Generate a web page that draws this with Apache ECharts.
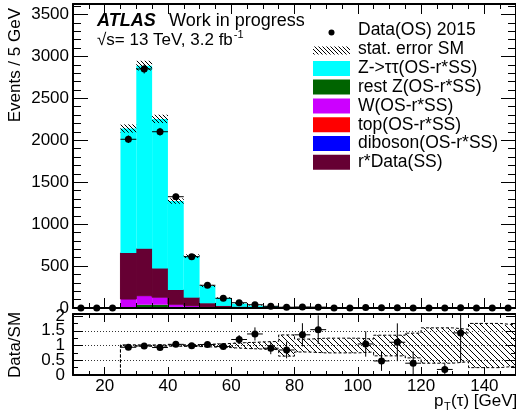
<!DOCTYPE html>
<html><head><meta charset="utf-8">
<script src="https://cdn.jsdelivr.net/npm/echarts@6/dist/echarts.min.js"></script>
<style>html,body{margin:0;padding:0;background:#fff}#c{width:516px;height:415px}</style>
</head><body><div id="c"></div>
<script>
// ---- data (bins of 5 GeV from 10 to 150) ----
const binEdges = [10,15,20,25,30,35,40,45,50,55,60,65,70,75,80,85,90,95,100,105,110,115,120,125,130,135,140,145,150];
const dataOS   = [0,0,0,2012,2850,2102,1327,612,271,116,63,39,20,9,12,10,0,0,6,2,3,1,0,1,2,0,0,0];
const ztautau  = [0,0,0,1484,2183,1785,1059,495,206,95,38,18.5,15.7,6.5,5.5,4.0,2.4,2.1,3.9,2.8,1.6,1.5,1.2,4.7,0.8,0.8,0.6,0.6];
const restZ    = [0,0,0,5,36,36,10,6,3,2,1.5,1,0.8,0.6,0.5,0.4,0.3,0.3,0.3,0.2,0.2,0.2,0.2,0.1,0.1,0.1,0.1,0.1];
const wjets    = [0,0,0,100,108,90,32,20,14,8,4,3,2,1.2,1,0.8,0.6,0.6,0.5,0.4,0.3,0.3,0.3,0.2,0.2,0.2,0.2,0.1];
const topq     = [0,0,0,1.5,2,2,2,1,1,0.5,0.5,0.3,0.3,0.2,0.2,0.2,0.1,0.1,0.1,0.1,0.1,0.1,0.1,0,0,0,0,0];
const diboson  = [0,0,0,0.5,1,1,1,0.5,0.5,0.3,0.3,0.2,0.2,0.1,0.1,0.1,0.1,0.1,0.1,0.1,0,0,0,0,0,0,0,0];
const rDataSS  = [0,0,0,549,560,341,171,96,38,14,8,5,3,2,1.5,1,1,0.8,0.8,0.6,0.5,0.4,0.4,0.3,0.3,0.2,0.2,0.2];
const statRelErr = [0,0,0,0.023,0.02,0.022,0.025,0.035,0.05,0.07,0.1,0.12,0.14,0.36,0.22,0.25,0.25,0.25,0.22,0.35,0.35,0.42,0.6,0.6,0.55,0.75,0.75,0.7];
const xMajorTicks = [20,40,60,80,100,120,140];
const ratioLabelsA = [0,1,2];
const ratioLabelsB = [0.5,1.5];
const legendLabels = ['Data(OS) 2015','stat. error SM','Z->\u03C4\u03C4(OS-r*SS)','rest Z(OS-r*SS)','W(OS-r*SS)','top(OS-r*SS)','diboson(OS-r*SS)','r*Data(SS)'];

const FONT = '"Liberation Sans", Arial, Helvetica, sans-serif';
const nb = dataOS.length;

// stack (bottom -> top)
const comps = [
  {vals: diboson, color:'#0000FF'},
  {vals: topq,    color:'#FF0000'},
  {vals: restZ,   color:'#006400'},
  {vals: wjets,   color:'#CC00FF'},
  {vals: rDataSS, color:'#660033', edge:true},
  {vals: ztautau, color:'#00FFFF'}
];
const total = new Array(nb).fill(0);
const stackSeries = comps.map(c => {
  const d = [];
  for (let i=0;i<nb;i++){ const lo = total[i]; total[i] += c.vals[i]; d.push([binEdges[i], binEdges[i+1], lo, total[i]]); }
  return {
    type:'custom', xAxisIndex:0, yAxisIndex:0, data:d, z:2,
    renderItem:(params, api) => {
      const p0 = api.coord([api.value(0), api.value(2)]);
      const p1 = api.coord([api.value(1), api.value(3)]);
      const h = p0[1]-p1[1];
      if (h <= 0 && !c.edge) return null;
      return {type:'rect', shape:{x:p0[0], y:p1[1], width:p1[0]-p0[0], height:Math.max(h,0)},
        style:{fill:c.color, stroke: c.edge ? c.color : null, lineWidth: 1}};
    }
  };
});

function hatchCanvas(size){
  const cv = document.createElement('canvas'); cv.width=size; cv.height=size;
  const g = cv.getContext('2d'); g.strokeStyle='#000'; g.lineWidth=1;
  g.beginPath();
  g.moveTo(-1,-1); g.lineTo(size+1,size+1);
  g.moveTo(-1,size-1); g.lineTo(1,size+1);
  g.moveTo(size-1,-1); g.lineTo(size+1,1);
  g.stroke();
  return cv;
}
const hatchMain = {image: hatchCanvas(4), repeat:'repeat'};
const hatchRatio = {image: hatchCanvas(6), repeat:'repeat'};

const bandMain = [], bandRatio = [], bandTop = [], bandBot = [], dataPts = [], ratioPts = [];
for (let i=0;i<nb;i++){
  const c = (binEdges[i]+binEdges[i+1])/2;
  if (total[i] > 0){
    bandMain.push([binEdges[i], binEdges[i+1], total[i]*(1-statRelErr[i]), total[i]*(1+statRelErr[i])]);
    bandRatio.push([binEdges[i], binEdges[i+1], 1-statRelErr[i], 1+statRelErr[i]]);
    bandTop.push([binEdges[i], 1+statRelErr[i]]); bandBot.push([binEdges[i], 1-statRelErr[i]]);
  } else { bandTop.push([binEdges[i], 0]); bandBot.push([binEdges[i], 0]); }
  dataPts.push([c, dataOS[i], Math.sqrt(dataOS[i])]);
  if (dataOS[i] > 0 && total[i] > 0) ratioPts.push([c, dataOS[i]/total[i], Math.sqrt(dataOS[i])/total[i]]);
}
bandTop.push([binEdges[nb], bandTop[nb-1][1]]); bandBot.push([binEdges[nb], bandBot[nb-1][1]]);

function bandRender(fill){
  return (params, api) => {
    const p0 = api.coord([api.value(0), api.value(2)]);
    const p1 = api.coord([api.value(1), api.value(3)]);
    return {type:'rect', shape:{x:p0[0], y:p1[1], width:p1[0]-p0[0], height:p0[1]-p1[1]}, style:{fill:fill}};
  };
}
function pointRender(r){
  return (params, api) => {
    const x = api.value(0), y = api.value(1), e = api.value(2);
    const c = api.coord([x,y]);
    const ch = [];
    if (y > 0){
      const l = api.coord([x-2.5,y]), rr = api.coord([x+2.5,y]);
      ch.push({type:'line', shape:{x1:l[0], y1:c[1], x2:rr[0], y2:c[1]}, style:{stroke:'#000', lineWidth:1}});
      const t = api.coord([x,y+e]), b = api.coord([x,Math.max(y-e,0)]);
      ch.push({type:'line', shape:{x1:c[0], y1:t[1], x2:c[0], y2:b[1]}, style:{stroke:'#000', lineWidth:1}});
    }
    ch.push({type:'circle', shape:{cx:c[0], cy:c[1], r:r}, style:{fill:'#000'}});
    return {type:'group', children:ch};
  };
}

function xAx(grid, pos, major){
  const len = grid===0 ? (major?10:5) : (major?8:4);
  const a = {type:'value', gridIndex:grid, position:pos, min:10, max:150, z:10,
    axisLine:{show:major, onZero:false, lineStyle:{color:'#000', width:2}},
    axisTick:{show:true, inside:true, length:len, lineStyle:{color:'#000', width:1}},
    axisLabel:{show:false}, splitLine:{show:false}};
  if (major){
    a.axisTick.customValues = xMajorTicks;
    if (grid===1 && pos==='bottom') a.axisLabel = {show:true, customValues:xMajorTicks, fontSize:17, color:'#000', fontFamily:FONT, margin:3, formatter: v => String(v)};
  } else a.interval = 5;
  return a;
}
function yAx(grid, pos){
  const main = grid===0;
  const a = {type:'value', gridIndex:grid, position:pos, z:10,
    min:0, max: main ? 3625 : 2.07, interval: main ? 500 : 0.5,
    axisLine:{show:true, onZero:false, lineStyle:{color:'#000', width:2}},
    axisTick:{show:true, inside:true, length: main?15:10, lineStyle:{color:'#000', width:1}},
    minorTick:{show:true, splitNumber: main?5:2, length: main?8:5, lineStyle:{color:'#000', width:1}},
    axisLabel:{show: pos==='left', fontSize:17, color:'#000', fontFamily:FONT, margin: main?4:8,
      showMaxLabel: !main, showMinLabel:true, formatter: v => String(v)},
    splitLine:{show:false}};
  if (!main) a.axisLabel.customValues = ratioLabelsA;
  return a;
}
const ratioLabelAxis = {type:'value', gridIndex:1, position:'left', z:10, min:0, max:2.07,
  axisLine:{show:false}, axisTick:{show:false}, minorTick:{show:false}, splitLine:{show:false},
  axisLabel:{show:true, customValues: ratioLabelsB, showMinLabel:true, showMaxLabel:true, fontSize:17, color:'#000', fontFamily:FONT, margin:8, formatter: v => String(v)}};

// legend graphics
const legY = [30.5, 49.5, 68.5, 87, 106, 124.8, 143.5, 162.3];
const legendColors = [null, null, '#00FFFF', '#006400', '#CC00FF', '#FF0000', '#0000FF', '#660033'];
const graphics = [];
legendLabels.forEach((t, k) => {
  graphics.push({type:'text', x:358, y:legY[k], style:{text:t, fontSize:17.5, fontFamily:FONT, fill:'#000', align:'left', verticalAlign:'middle'}});
  if (k===0) graphics.push({type:'circle', shape:{cx:331.5, cy:legY[k]+2, r:3}, style:{fill:'#000'}});
  else if (k===1) graphics.push({type:'rect', shape:{x:313, y:legY[k]-3, width:37, height:8}, style:{fill:hatchMain}});
  else graphics.push({type:'rect', shape:{x:313, y:legY[k]-7.5, width:37, height:15}, style:{fill:legendColors[k]}});
});
// ATLAS label
graphics.push({type:'text', x:97, y:21, style:{text:'ATLAS', fontSize:18, fontWeight:'bold', fontStyle:'italic', fontFamily:FONT, fill:'#000', align:'left', verticalAlign:'middle'}});
graphics.push({type:'text', x:169, y:21, style:{text:'Work in progress', fontSize:18, fontFamily:FONT, fill:'#000', align:'left', verticalAlign:'middle'}});
const ctx = document.createElement('canvas').getContext('2d');
ctx.font = '17px ' + FONT;
const lumiText = '\u221As= 13 TeV, 3.2 fb';
const lw = ctx.measureText(lumiText).width;
graphics.push({type:'text', x:97, y:40, style:{text:lumiText, fontSize:17, fontFamily:FONT, fill:'#000', align:'left', verticalAlign:'middle'}});
graphics.push({type:'text', x:97+lw+1, y:35, style:{text:'-1', fontSize:11, fontFamily:FONT, fill:'#000', align:'left', verticalAlign:'middle'}});
// axis titles
graphics.push({type:'text', x:15, y:8, rotation:Math.PI/2, style:{text:'Events / 5 GeV', fontSize:17, fontFamily:FONT, fill:'#000', align:'right', verticalAlign:'middle'}});
graphics.push({type:'text', x:15, y:345, rotation:Math.PI/2, style:{text:'Data/SM', fontSize:17, fontFamily:FONT, fill:'#000', align:'center', verticalAlign:'middle'}});
graphics.push({type:'text', x:434, y:401, style:{text:'p', fontSize:17, fontFamily:FONT, fill:'#000', align:'left', verticalAlign:'middle'}});
graphics.push({type:'text', x:444, y:407, style:{text:'T', fontSize:11, fontFamily:FONT, fill:'#000', align:'left', verticalAlign:'middle'}});
graphics.push({type:'text', x:451, y:401, style:{text:'(\u03C4) [GeV]', fontSize:17, fontFamily:FONT, fill:'#000', align:'left', verticalAlign:'middle'}});

const option = {
  animation:false,
  backgroundColor:'#fff',
  grid:[{left:73, top:4, width:447, height:304}, {left:73, top:314, width:447, height:61}],
  xAxis:[xAx(0,'bottom',true), xAx(0,'bottom',false), xAx(0,'top',true), xAx(0,'top',false),
         xAx(1,'bottom',true), xAx(1,'bottom',false), xAx(1,'top',true), xAx(1,'top',false)],
  yAxis:[yAx(0,'left'), yAx(0,'right'), yAx(1,'left'), yAx(1,'right'), ratioLabelAxis],
  graphic: graphics,
  series: stackSeries.concat([
    {type:'custom', xAxisIndex:0, yAxisIndex:0, data:bandMain, z:3, renderItem:bandRender(hatchMain)},
    {type:'custom', xAxisIndex:0, yAxisIndex:0, data:dataPts, z:4, renderItem:pointRender(3.5)},
    {type:'custom', xAxisIndex:4, yAxisIndex:2, data:bandRatio, z:2, renderItem:bandRender(hatchRatio)},
    {type:'line', xAxisIndex:4, yAxisIndex:2, data:bandTop, step:'end', showSymbol:false, z:3,
      lineStyle:{color:'#000', width:1, type:[3,2]},
      markLine:{silent:true, symbol:'none', label:{show:false}, lineStyle:{color:'#333', width:1, type:[1,2]},
        data:[{yAxis:0.5},{yAxis:1},{yAxis:1.5}]}},
    {type:'line', xAxisIndex:4, yAxisIndex:2, data:bandBot, step:'end', showSymbol:false, z:3,
      lineStyle:{color:'#000', width:1, type:[3,2]}},
    {type:'custom', xAxisIndex:4, yAxisIndex:2, data:ratioPts, z:5, clip:true, renderItem:pointRender(3.5)}
  ])
};
const chart = echarts.init(document.getElementById('c'), null, {renderer:'canvas'});
chart.setOption(option);
</script></body></html>
